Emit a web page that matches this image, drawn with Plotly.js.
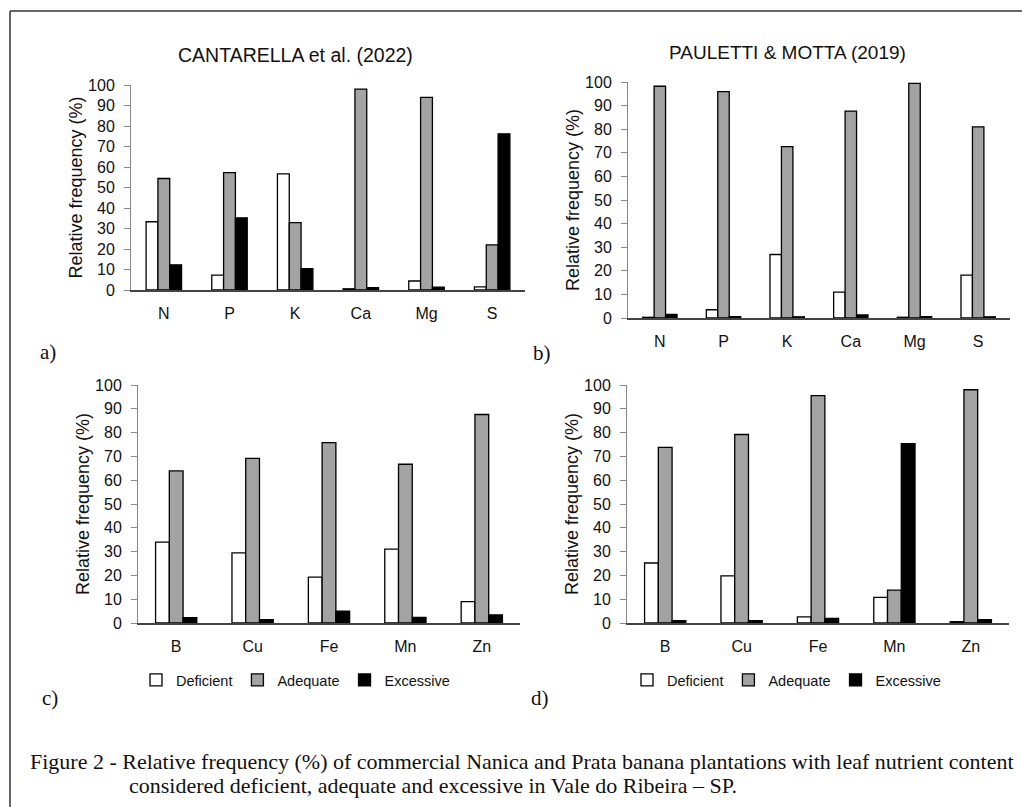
<!DOCTYPE html>
<html><head><meta charset="utf-8">
<script src="https://cdn.plot.ly/plotly-3.0.1.min.js"></script>
<style>html,body{margin:0;padding:0;background:#fff}#chart{width:1022px;height:807px}</style>
</head><body><div id="chart"></div>
<script>
// ---- data ----
const macroNutrients = ['N', 'P', 'K', 'Ca', 'Mg', 'S'];
const microNutrients = ['B', 'Cu', 'Fe', 'Mn', 'Zn'];
const seriesNames = ['Deficient', 'Adequate', 'Excessive'];
const yTickValues = [0, 10, 20, 30, 40, 50, 60, 70, 80, 90, 100];

// a) CANTARELLA et al. (2022) - macronutrients
const cantarellaMacroDeficient = [33.3, 7.3, 56.6, 0.6, 4.4, 1.5];
const cantarellaMacroAdequate  = [54.4, 57.3, 32.9, 98.0, 94.0, 22.0];
const cantarellaMacroExcessive = [12.3, 35.2, 10.4, 1.2, 1.4, 76.2];

// b) PAULETTI & MOTTA (2019) - macronutrients
const paulettiMacroDeficient = [0.3, 3.5, 26.9, 11.0, 0.3, 18.2];
const paulettiMacroAdequate  = [98.2, 95.9, 72.6, 87.7, 99.4, 81.0];
const paulettiMacroExcessive = [1.5, 0.6, 0.5, 1.3, 0.6, 0.5];

// c) CANTARELLA et al. (2022) - micronutrients
const cantarellaMicroDeficient = [34.0, 29.5, 19.3, 31.0, 9.0];
const cantarellaMicroAdequate  = [63.9, 69.2, 75.8, 66.7, 87.6];
const cantarellaMicroExcessive = [2.3, 1.4, 5.0, 2.4, 3.4];

// d) PAULETTI & MOTTA (2019) - micronutrients
const paulettiMicroDeficient = [25.2, 19.8, 2.6, 10.8, 0.6];
const paulettiMicroAdequate  = [73.8, 79.2, 95.5, 13.8, 98.0];
const paulettiMicroExcessive = [1.0, 1.0, 1.9, 75.4, 1.4];

// ---- styling ----
const W = 1022, H = 807;
const px = v => v / W;
const py = v => 1 - v / H;
const fills = ['#ffffff', '#a3a3a3', '#000000'];
const sans = 'Liberation Sans, Arial, sans-serif';
const serif = 'Liberation Serif, Times New Roman, serif';

function barTrace(name, idx, cats, vals, xa, ya, legendOpt) {
  const t = {
    type: 'bar', name: name, x: cats, y: vals, xaxis: xa, yaxis: ya,
    marker: {color: fills[idx], line: {color: '#000', width: 1.3}},
    hovertemplate: '%{x}: %{y}%<extra>' + name + '</extra>',
    showlegend: false
  };
  if (legendOpt) { t.showlegend = true; t.legend = legendOpt; }
  return t;
}

const data = [];
const groups = [
  {cats: macroNutrients, vals: [cantarellaMacroDeficient, cantarellaMacroAdequate, cantarellaMacroExcessive], xa: 'x', ya: 'y', leg: null},
  {cats: macroNutrients, vals: [paulettiMacroDeficient, paulettiMacroAdequate, paulettiMacroExcessive], xa: 'x2', ya: 'y2', leg: null},
  {cats: microNutrients, vals: [cantarellaMicroDeficient, cantarellaMicroAdequate, cantarellaMicroExcessive], xa: 'x3', ya: 'y3', leg: 'legend'},
  {cats: microNutrients, vals: [paulettiMicroDeficient, paulettiMicroAdequate, paulettiMicroExcessive], xa: 'x4', ya: 'y4', leg: 'legend2'}
];
groups.forEach(g => {
  seriesNames.forEach((n, i) => data.push(barTrace(n, i, g.cats, g.vals[i], g.xa, g.ya, g.leg)));
});

function xAxis(x0, x1, anchor) {
  return {
    domain: [px(x0), px(x1)], anchor: anchor,
    showline: true, linecolor: '#444', linewidth: 1.5,
    ticks: 'outside', ticklen: 8, tickcolor: 'rgba(0,0,0,0)',
    tickfont: {family: sans, size: 16, color: '#111'},
    showgrid: false, zeroline: false, fixedrange: true
  };
}
function yAxis(yTop, yBot, anchor) {
  return {
    domain: [py(yBot), py(yTop)], anchor: anchor, range: [0, 100],
    tickmode: 'array', tickvals: yTickValues,
    ticks: 'outside', ticklen: 6, tickcolor: '#888', tickwidth: 1,
    showline: true, linecolor: '#888', linewidth: 1,
    ticklabelstandoff: 6,
    tickfont: {family: sans, size: 16, color: '#111'},
    showgrid: false, zeroline: false, fixedrange: true,
    title: {text: 'Relative frequency (%)', font: {family: sans, size: 18, color: '#111'}, standoff: 0}
  };
}

function legendAt(x, y) {
  return {
    orientation: 'h', x: px(x), y: py(y), xanchor: 'left', yanchor: 'middle',
    font: {family: sans, size: 14.5, color: '#111'}, bgcolor: 'rgba(0,0,0,0)',
    itemwidth: 30, traceorder: 'normal', itemclick: false, itemdoubleclick: false
  };
}

function note(text, x, y, font, xanchor, extra) {
  return Object.assign({text: text, xref: 'paper', yref: 'paper', x: px(x), y: py(y),
    xanchor: xanchor || 'center', yanchor: 'middle', showarrow: false, font: font}, extra || {});
}

const layout = {
  width: W, height: H,
  margin: {l: 0, r: 0, t: 0, b: 0},
  paper_bgcolor: '#fff', plot_bgcolor: 'rgba(0,0,0,0)',
  barmode: 'group', bargap: 0.46, bargroupgap: 0,
  xaxis: xAxis(131, 525, 'y'),  yaxis: yAxis(85, 290, 'x'),
  xaxis2: xAxis(628, 1010, 'y2'), yaxis2: yAxis(82, 318, 'x2'),
  xaxis3: xAxis(138, 520, 'y3'), yaxis3: yAxis(385, 623, 'x3'),
  xaxis4: xAxis(627, 1009, 'y4'), yaxis4: yAxis(385, 623, 'x4'),
  legend: legendAt(136, 680),
  legend2: legendAt(627, 680),
  annotations: [
    note('CANTARELLA et al. (2022)', 295, 55, {family: sans, size: 19.5, color: '#111'}),
    note('PAULETTI &amp; MOTTA (2019)', 787, 52, {family: sans, size: 19, color: '#111'}),
    note('a)', 48, 352, {family: serif, size: 21, color: '#111'}),
    note('b)', 542, 353, {family: serif, size: 21, color: '#111'}),
    note('c)', 50, 698, {family: serif, size: 21, color: '#111'}),
    note('d)', 540, 698, {family: serif, size: 21, color: '#111'}),
    note('Figure 2 - Relative frequency (%) of commercial Nanica and Prata banana plantations with leaf nutrient content', 28, 761, {family: serif, size: 22, color: '#111'}, 'left'),
    note('considered deficient, adequate and excessive in Vale do Ribeira \u2013 SP.', 127, 785, {family: serif, size: 22, color: '#111'}, 'left')
  ],
  shapes: [
    {type: 'line', xref: 'paper', yref: 'paper', x0: px(10), x1: px(10), y0: py(11), y1: 0, line: {color: '#333', width: 1.5}},
    {type: 'line', xref: 'paper', yref: 'paper', x0: px(10), x1: 1, y0: py(11), y1: py(11), line: {color: '#333', width: 1.5}}
  ]
};

Plotly.newPlot('chart', data, layout, {displayModeBar: false, responsive: false});
</script></body></html>
